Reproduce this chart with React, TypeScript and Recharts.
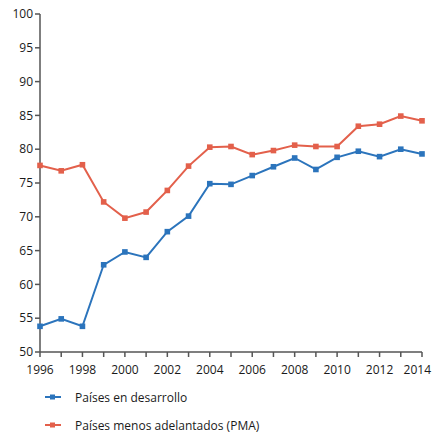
import { LineChart, Line, XAxis, YAxis } from 'recharts';

const years = [1996, 1997, 1998, 1999, 2000, 2001, 2002, 2003, 2004, 2005, 2006, 2007, 2008, 2009, 2010, 2011, 2012, 2013, 2014];
const enDesarrollo = [53.8, 54.9, 53.8, 62.9, 64.8, 64.0, 67.8, 70.1, 74.9, 74.8, 76.1, 77.4, 78.7, 77.0, 78.8, 79.7, 78.9, 80.0, 79.3];
const menosAdelantados = [77.6, 76.8, 77.7, 72.2, 69.8, 70.7, 73.9, 77.5, 80.3, 80.4, 79.2, 79.8, 80.6, 80.4, 80.4, 83.4, 83.7, 84.9, 84.2];
const yTicks = [50, 55, 60, 65, 70, 75, 80, 85, 90, 95, 100];

const BLUE = '#2b74bc';
const RED = '#e3604b';
const TEXT = '#1a1a1a';
const FONT = '"Open Sans", sans-serif';

const data = years.map((year, i) => ({
  year,
  desarrollo: enDesarrollo[i],
  pma: menosAdelantados[i],
}));

const seriesInfo = [
  { name: 'Países en desarrollo', color: BLUE },
  { name: 'Países menos adelantados (PMA)', color: RED },
];

function SquareDot(props: any) {
  const { cx, cy, stroke } = props;
  if (cx == null || cy == null) return null;
  return <rect x={cx - 2.8} y={cy - 2.8} width={5.6} height={5.6} fill={stroke} />;
}

// even years only; the last label is pulled in so it stays inside the frame
function YearTick(props: any) {
  const { x, y, payload } = props;
  const v = payload.value as number;
  if (v % 2 !== 0) return null;
  const last = v === years[years.length - 1];
  return (
    <text
      x={last ? x + 9 : x}
      y={y + 15}
      textAnchor={last ? 'end' : 'middle'}
      fill={TEXT}
      fontSize={12}
      fontFamily={FONT}
    >
      {v}
    </text>
  );
}

export default function App() {
  return (
    <div style={{ position: 'absolute', left: 0, top: 0, width: 432, height: 437, background: '#fff', fontFamily: FONT }}>
      <LineChart width={432} height={382} data={data} margin={{ top: 14, right: 10, bottom: 0, left: 0 }}>
        <XAxis
          dataKey="year"
          type="number"
          domain={[1996, 2014]}
          ticks={years}
          interval={0}
          height={30}
          stroke="#555"
          strokeWidth={1.5}
          tickSize={5}
          tick={<YearTick />}
        />
        <YAxis
          type="number"
          domain={[50, 100]}
          ticks={yTicks}
          interval={0}
          width={40}
          stroke="#555"
          strokeWidth={1.5}
          tickSize={5}
          tick={{ fill: TEXT, fontSize: 12, fontFamily: FONT }}
        />
        <Line
          dataKey="desarrollo"
          name={seriesInfo[0].name}
          stroke={BLUE}
          strokeWidth={2}
          dot={<SquareDot />}
          isAnimationActive={false}
        />
        <Line
          dataKey="pma"
          name={seriesInfo[1].name}
          stroke={RED}
          strokeWidth={2}
          dot={<SquareDot />}
          isAnimationActive={false}
        />
      </LineChart>
      <div style={{ position: 'absolute', left: 45, top: 388 }}>
        {seriesInfo.map((s) => (
          <div key={s.name} style={{ display: 'flex', alignItems: 'center', height: 18, marginBottom: 10, fontSize: 12, color: TEXT }}>
            <svg width={16} height={8} style={{ marginRight: 14 }}>
              <line x1={0} y1={4} x2={16} y2={4} stroke={s.color} strokeWidth={2} />
              <rect x={5} y={1.5} width={5} height={5} fill={s.color} />
            </svg>
            <span>{s.name}</span>
          </div>
        ))}
      </div>
    </div>
  );
}
